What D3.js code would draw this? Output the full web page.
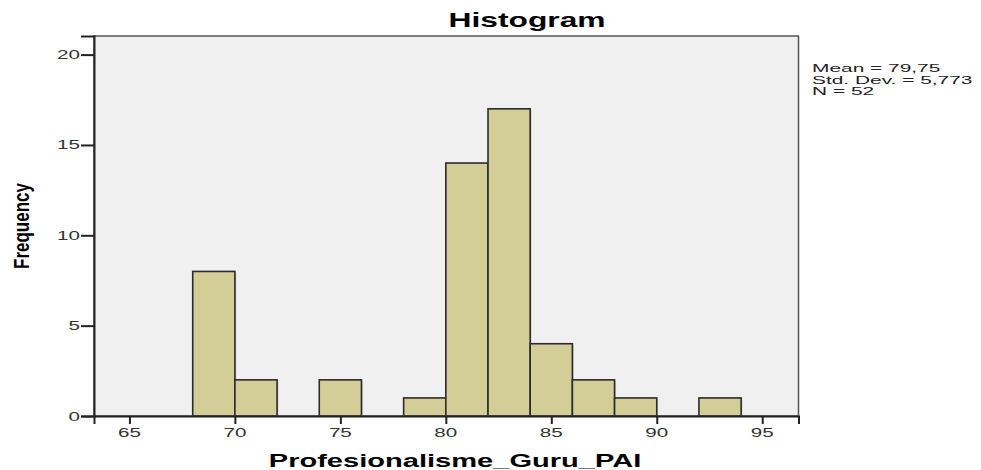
<!DOCTYPE html>
<html lang="en">
<head>
    <meta charset="UTF-8">
    <script src="https://d3js.org/d3.v7.min.js"></script>
    <title>Histogram</title>
    <style>
        body { margin: 0; background: #fff; }
        text { font-family: "Liberation Sans", Arial, sans-serif; }
    </style>
</head>
<body>
    <script>

        // bins of Profesionalisme_Guru_PAI (width 2)
        var binStart = [68, 70, 74, 78, 80, 82, 84, 86, 88, 92];
        var binEnd   = [70, 72, 76, 80, 82, 84, 86, 88, 90, 94];
        var counts   = [8, 2, 2, 1, 14, 17, 4, 2, 1, 1];
        var xTicks = [65, 70, 75, 80, 85, 90, 95];
        var yTicks = [0, 5, 10, 15, 20];
        var stats = ["Mean = 79,75", "Std. Dev. = 5,773", "N = 52"];

        var W = 981, H = 470;
        // plot box (the original picture is stretched sideways, so texts get a scaleX)
        var pL = 94, pR = 798.5, pT = 36, pB = 416;
        var sx = 1.65;

        var svg = d3.select("body").append("svg").attr("width", W).attr("height", H);

        var x = d3.scaleLinear().domain([63.32, 96.72]).range([pL, pR]);
        var y = d3.scaleLinear().domain([0, 21.03]).range([pB, pT]);

        svg.append("rect").attr("x", pL).attr("y", pT)
           .attr("width", pR - pL).attr("height", pB - pT)
           .style("fill", "#f0f0f0");

        var bins = counts.map(function(c, i){ return {x0: binStart[i], x1: binEnd[i], n: c}; });

        // soft shadow under each bar
        svg.selectAll("rect.shadow").data(bins).enter().append("rect")
           .attr("class", "shadow")
           .attr("x", function(d){ return x(d.x0) + 1.5; })
           .attr("y", function(d){ return y(d.n) + 1.5; })
           .attr("width", function(d){ return x(d.x1) - x(d.x0); })
           .attr("height", function(d){ return pB - y(d.n) - 1.5; })
           .style("fill", "#000").style("opacity", 0.12);

        svg.selectAll("rect.bar").data(bins).enter().append("rect")
           .attr("class", "bar")
           .attr("x", function(d){ return x(d.x0); })
           .attr("y", function(d){ return y(d.n); })
           .attr("width", function(d){ return x(d.x1) - x(d.x0); })
           .attr("height", function(d){ return pB - y(d.n); })
           .style("fill", "#d3ce97").style("stroke", "#2b2b2b").style("stroke-width", 1.6);

        svg.append("rect").attr("x", pL).attr("y", pT)
           .attr("width", pR - pL).attr("height", pB - pT)
           .style("fill", "none").style("stroke", "#555").style("stroke-width", 1.5);

        var yAxis = svg.append("g").attr("transform", "translate(" + pL + ",0)")
           .call(d3.axisLeft(y).tickValues(yTicks).tickSize(13).tickFormat(""));
        var xAxis = svg.append("g").attr("transform", "translate(0," + pB + ")")
           .call(d3.axisBottom(x).tickValues(xTicks).tickSize(8).tickFormat(""));

        [yAxis, xAxis].forEach(function(g){
            g.select(".domain").style("stroke", "#222").style("stroke-width", 2);
            g.selectAll(".tick line").style("stroke", "#222").style("stroke-width", 2);
        });

        // tick labels, stretched like the original
        svg.selectAll("text.ylab").data(yTicks).enter().append("text")
           .attr("class", "ylab")
           .attr("transform", function(d){ return "translate(80," + (y(d) + 4.5) + ") scale(" + sx + ",1)"; })
           .attr("text-anchor", "end").style("font-size", "12.5px").style("fill", "#333")
           .text(function(d){ return d; });

        svg.selectAll("text.xlab").data(xTicks).enter().append("text")
           .attr("class", "xlab")
           .attr("transform", function(d){ return "translate(" + x(d) + ",437) scale(" + sx + ",1)"; })
           .attr("text-anchor", "middle").style("font-size", "12.5px").style("fill", "#333")
           .text(function(d){ return d; });

        svg.append("text").attr("transform", "translate(527,26.5) scale(1.63,1)")
           .attr("text-anchor", "middle").style("font-size", "19.5px").style("font-weight", "bold")
           .text("Histogram");

        svg.append("text").attr("transform", "translate(455,467) scale(1.53,1)")
           .attr("text-anchor", "middle").style("font-size", "19px").style("font-weight", "bold")
           .text("Profesionalisme_Guru_PAI");

        svg.append("text").attr("transform", "translate(29,226) rotate(-90) scale(1,1.3)")
           .attr("text-anchor", "middle").style("font-size", "17px").style("font-weight", "bold")
           .text("Frequency");

        svg.selectAll("text.stat").data(stats).enter().append("text")
           .attr("class", "stat")
           .attr("transform", function(d, i){ return "translate(812," + (72 + i * 11.5) + ") scale(1.9,1)"; })
           .style("font-size", "11px").style("fill", "#222")
           .text(function(d){ return d; });

    </script>
</body>
</html>
